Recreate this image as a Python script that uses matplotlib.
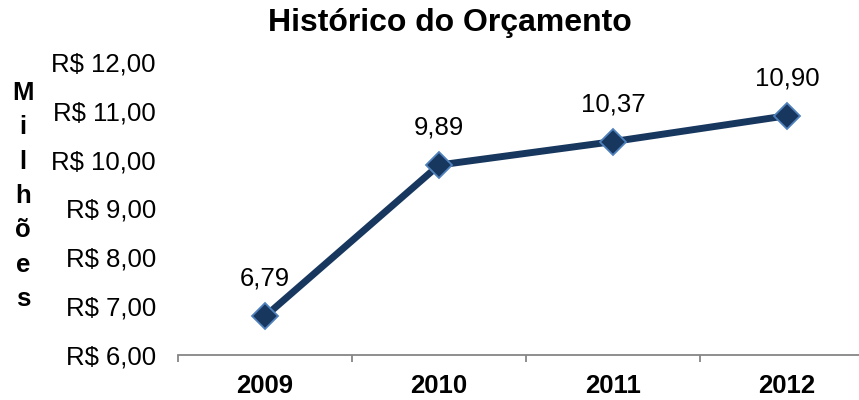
import matplotlib
matplotlib.use("Agg")
import matplotlib.pyplot as plt
from matplotlib.ticker import FixedLocator

years = ["2009", "2010", "2011", "2012"]
values = [6.79, 9.89, 10.37, 10.90]
value_labels = ["6,79", "9,89", "10,37", "10,90"]
yticks = [6, 7, 8, 9, 10, 11, 12]
ytick_labels = ["R$ 6,00", "R$ 7,00", "R$ 8,00", "R$ 9,00", "R$ 10,00", "R$ 11,00", "R$ 12,00"]

plt.rcParams['font.family'] = ['Liberation Sans', 'DejaVu Sans']

fig = plt.figure(figsize=(8.59, 4.0), dpi=100)
ax = fig.add_axes([178/859, 45/400, 696/859, 293/400])

x = list(range(len(years)))
ax.plot(x, values, color="#17375E", linewidth=5, marker="D", markersize=13,
        markerfacecolor="#17375E", markeredgecolor="#4F81BD", markeredgewidth=1.3,
        solid_capstyle="butt", zorder=3)

for xi, v, lab in zip(x, values, value_labels):
    ax.annotate(lab, (xi, v), xytext=(0, 27), textcoords="offset points",
                ha="center", va="center", fontsize=18.5, color="black")

ax.set_xlim(-0.5, 3.5)
ax.set_ylim(6, 12)
ax.set_yticks(yticks)
ax.set_yticklabels(ytick_labels, fontsize=18.5)
ax.set_xticks(x)
ax.set_xticklabels(years, fontsize=18.5, fontweight="bold")
ax.xaxis.set_minor_locator(FixedLocator([-0.5, 0.5, 1.5, 2.5, 3.5]))
ax.tick_params(axis="x", which="major", length=0, pad=14)
ax.tick_params(axis="x", which="minor", length=5, width=1.3, color="#868686", direction="out")
ax.tick_params(axis="y", length=0, pad=16)

for s in ["top", "right", "left"]:
    ax.spines[s].set_visible(False)
ax.spines["bottom"].set_color("#868686")
ax.spines["bottom"].set_linewidth(1.3)

fig.text(450/859, 1 - 23/400, "Histórico do Orçamento", ha="center", va="center",
         fontsize=23, fontweight="bold")
fig.text(23/859, 1 - 196/400, "M\ni\nl\nh\nõ\ne\ns", ha="center", va="center",
         fontsize=18.5, fontweight="bold", linespacing=1.55)

fig.savefig("out.png", dpi=100)
